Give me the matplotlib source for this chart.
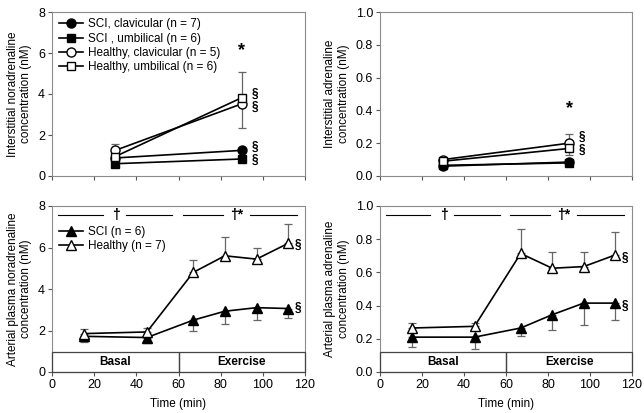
import matplotlib
matplotlib.use("Agg")
import matplotlib.pyplot as plt
from matplotlib.patches import Rectangle

plt.rcParams['font.family'] = ['Liberation Sans', 'DejaVu Sans']

# ---- data ----
t_int = [30, 90]
ne_sci_clav = [0.88, 1.25]
ne_sci_umb = [0.60, 0.83]
ne_h_clav = [1.25, 3.52]
ne_h_umb = [0.95, 3.82]
ne_h_clav_err_up = [0.30, 0.0]
ne_h_clav_err_dn = [0.0, 1.17]
ne_h_umb_err_up = [0.0, 1.23]

ad_sci_clav = [0.06, 0.085]
ad_sci_umb = [0.065, 0.08]
ad_h_clav = [0.10, 0.20]
ad_h_umb = [0.09, 0.168]
ad_h_clav_err_up = [0.0, 0.058]
ad_h_umb_err_dn = [0.0, 0.038]

t_pl = [15, 45, 67, 82, 97, 112]
pne_sci = [1.72, 1.66, 2.50, 2.93, 3.10, 3.06]
pne_sci_err = [0.27, 0.26, 0.50, 0.63, 0.60, 0.48]
pne_h = [1.85, 1.93, 4.80, 5.60, 5.44, 6.20]
pne_h_err = [0.21, 0.21, 0.62, 0.89, 0.55, 0.93]

pad_sci = [0.21, 0.21, 0.265, 0.345, 0.415, 0.415]
pad_sci_err = [0.06, 0.07, 0.05, 0.09, 0.13, 0.10]
pad_h = [0.265, 0.275, 0.714, 0.625, 0.635, 0.705]
pad_h_err = [0.03, 0.02, 0.15, 0.10, 0.09, 0.14]

xticks = [0, 20, 40, 60, 80, 100, 120]

fig = plt.figure(figsize=(6.44, 4.13), dpi=100)
W, H = 644, 413
def ax_at(l, t, r, b):
    return fig.add_axes([l / W, 1 - b / H, (r - l) / W, (b - t) / H])

ax1 = ax_at(52, 12, 305, 176)
ax2 = ax_at(380, 12, 632, 176)
ax3 = ax_at(52, 206, 305, 372)
ax4 = ax_at(380, 206, 632, 372)

spine_c = '#8c8c8c'
for ax in (ax1, ax2, ax3, ax4):
    for s in ax.spines.values():
        s.set_color(spine_c)
        s.set_linewidth(0.8)
    ax.set_xlim(0, 120)
    ax.set_xticks(xticks)
    ax.tick_params(axis='both', direction='out', length=3, width=0.8,
                   color='#555555', labelsize=9, pad=2)

ms = 6.5
lw = 1.2
ecol = '#666666'

def errs(ax, x, y, up, dn):
    ax.errorbar(x, y, yerr=[dn, up], fmt='none', ecolor=ecol, elinewidth=0.9,
                capsize=3, capthick=0.9, zorder=2)

leg_kw = dict(frameon=False, fontsize=8.5, handlelength=2.0,
              borderaxespad=0.0, labelspacing=0.2, handletextpad=0.4)

# ---- top-left ----
ax1.set_ylim(0, 8)
ax1.set_yticks([0, 2, 4, 6, 8])
ax1.tick_params(axis='x', labelbottom=False)
errs(ax1, t_int, ne_h_clav, ne_h_clav_err_up, ne_h_clav_err_dn)
errs(ax1, t_int, ne_h_umb, ne_h_umb_err_up, [0, 0])
ax1.plot(t_int, ne_sci_clav, '-o', color='black', mfc='black', ms=ms, lw=lw, label='SCI, clavicular (n = 7)', zorder=3)
ax1.plot(t_int, ne_sci_umb, '-s', color='black', mfc='black', ms=ms - 0.5, lw=lw, label='SCI , umbilical (n = 6)', zorder=3)
ax1.plot(t_int, ne_h_clav, '-o', color='black', mfc='white', ms=ms, lw=lw, label='Healthy, clavicular (n = 5)', zorder=4)
ax1.plot(t_int, ne_h_umb, '-s', color='black', mfc='white', ms=ms - 0.5, lw=lw, label='Healthy, umbilical (n = 6)', zorder=4)
ax1.legend(loc='upper left', bbox_to_anchor=(0.01, 0.99), **leg_kw)
ax1.set_ylabel('Interstitial noradrenaline\nconcentration (nM)', fontsize=8.5, labelpad=4)
ax1.text(90, 6.1, '*', ha='center', va='center', fontsize=13, fontweight='bold')
for yv in (4.0, 3.35, 1.4, 0.8):
    ax1.text(94.5, yv, '§', ha='left', va='center', fontsize=8.5, fontweight='bold')

# ---- top-right ----
ax2.set_ylim(0, 1.0)
ax2.set_yticks([0, 0.2, 0.4, 0.6, 0.8, 1.0])
ax2.set_yticklabels(['0.0', '0.2', '0.4', '0.6', '0.8', '1.0'])
ax2.tick_params(axis='x', labelbottom=False)
errs(ax2, t_int, ad_h_clav, ad_h_clav_err_up, [0, 0])
errs(ax2, t_int, ad_h_umb, [0, 0], ad_h_umb_err_dn)
ax2.plot(t_int, ad_sci_clav, '-o', color='black', mfc='black', ms=ms, lw=lw, zorder=3)
ax2.plot(t_int, ad_sci_umb, '-s', color='black', mfc='black', ms=ms - 0.5, lw=lw, zorder=3)
ax2.plot(t_int, ad_h_clav, '-o', color='black', mfc='white', ms=ms, lw=lw, zorder=4)
ax2.plot(t_int, ad_h_umb, '-s', color='black', mfc='white', ms=ms - 0.5, lw=lw, zorder=4)
ax2.set_ylabel('Interstitial adrenaline\nconcentration (nM)', fontsize=8.5, labelpad=4)
ax2.text(90, 0.41, '*', ha='center', va='center', fontsize=13, fontweight='bold')
for yv in (0.24, 0.16):
    ax2.text(94.5, yv, '§', ha='left', va='center', fontsize=8.5, fontweight='bold')

# ---- bottom panels ----
def bottom(ax, ymax, sci, sci_e, h, h_e, ylabel, s_sci, s_h, legend):
    ax.set_ylim(0, ymax)
    errs(ax, t_pl, h, h_e, [0] * len(h))
    errs(ax, t_pl, sci, [0] * len(sci), sci_e)
    ax.plot(t_pl, sci, '-^', color='black', mfc='black', ms=ms, lw=lw, label='SCI (n = 6)', zorder=3)
    ax.plot(t_pl, h, '-^', color='black', mfc='white', ms=ms, lw=lw, label='Healthy (n = 7)', zorder=4)
    ax.set_xlabel('Time (min)', fontsize=8.5, labelpad=5)
    ax.set_ylabel(ylabel, fontsize=8.5, labelpad=4)
    # Basal / Exercise box
    tr = ax.get_xaxis_transform()
    ax.add_patch(Rectangle((0, 0), 60, 0.12, transform=tr, fill=False, ec='#444444', lw=0.9, zorder=5, clip_on=False))
    ax.add_patch(Rectangle((60, 0), 60, 0.12, transform=tr, fill=False, ec='#444444', lw=0.9, zorder=5, clip_on=False))
    ax.text(30, 0.06, 'Basal', transform=tr, ha='center', va='center', fontsize=8.5, fontweight='bold')
    ax.text(90, 0.06, 'Exercise', transform=tr, ha='center', va='center', fontsize=8.5, fontweight='bold')
    # significance lines
    yf = 0.947
    for x0, x1 in ((3, 24), (35, 57), (62, 81), (94, 116)):
        ax.plot([x0, x1], [yf, yf], transform=tr, color='black', lw=0.8)
    ax.text(30.5, yf, '†', transform=tr, ha='center', va='center', fontsize=10, fontweight='bold')
    ax.text(87.5, yf, '†*', transform=tr, ha='center', va='center', fontsize=10, fontweight='bold')
    ax.text(115, s_h, '§', ha='left', va='center', fontsize=8.5, fontweight='bold')
    ax.text(115, s_sci, '§', ha='left', va='center', fontsize=8.5, fontweight='bold')
    if legend:
        ax.legend(loc='upper left', bbox_to_anchor=(0.01, 0.91), **leg_kw)

ax3.set_yticks([0, 2, 4, 6, 8])
bottom(ax3, 8, pne_sci, pne_sci_err, pne_h, pne_h_err,
       'Arterial plasma noradrenaline\nconcentration (nM)', 3.07, 6.15, True)
ax4.set_yticks([0, 0.2, 0.4, 0.6, 0.8, 1.0])
ax4.set_yticklabels(['0.0', '0.2', '0.4', '0.6', '0.8', '1.0'])
bottom(ax4, 1.0, pad_sci, pad_sci_err, pad_h, pad_h_err,
       'Arterial plasma adrenaline\nconcentration (nM)', 0.40, 0.69, False)

fig.savefig('out.png', dpi=100)
